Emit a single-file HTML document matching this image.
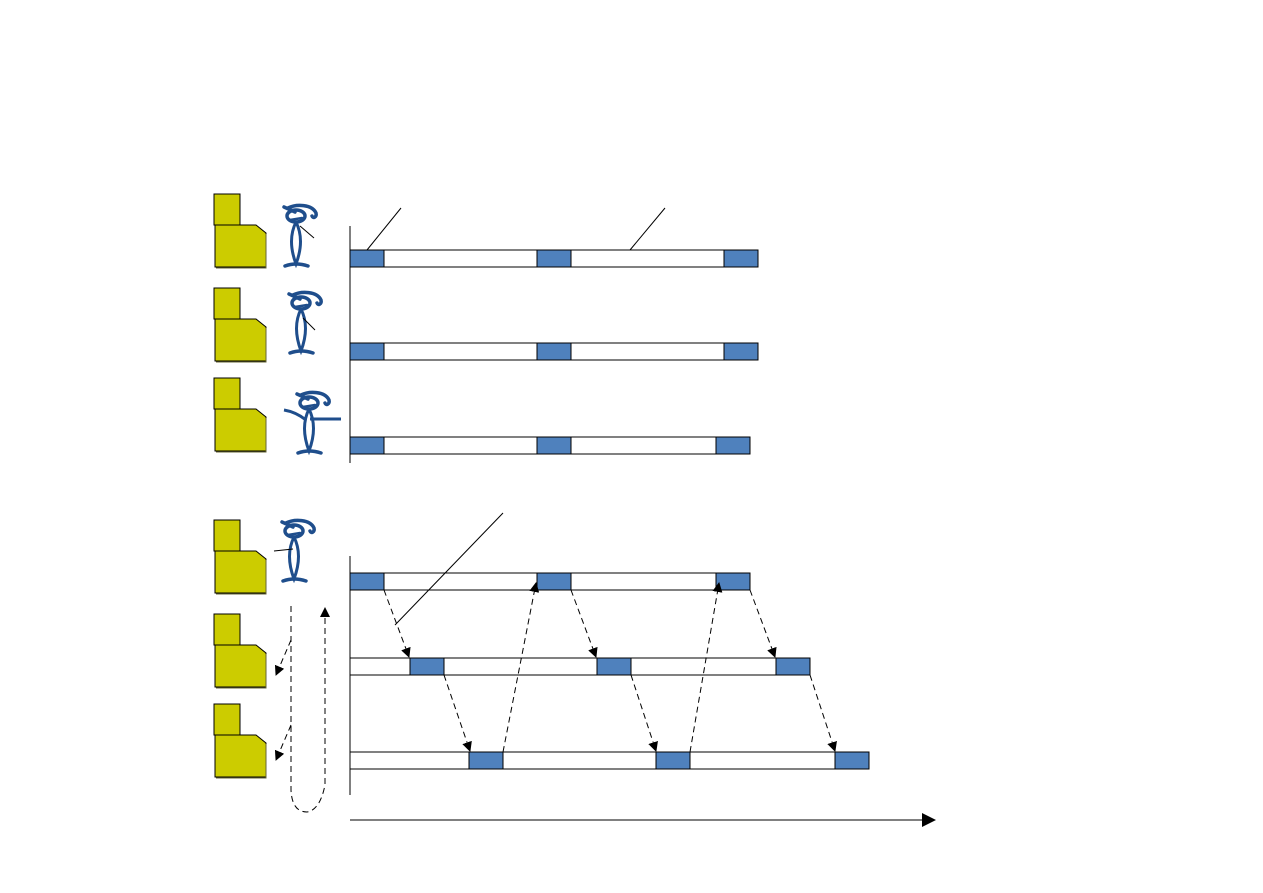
<!DOCTYPE html>
<html><head><style>html,body{margin:0;padding:0;background:#fff}svg{display:block}</style></head>
<body>
<svg width="1263" height="893" viewBox="0 0 1263 893" xmlns="http://www.w3.org/2000/svg">
<defs>
<g id="pc">
<rect x="0" y="0" width="26" height="31" fill="#cccc00" stroke="#000" stroke-width="1"/>
<path d="M1 31 H42 L52 39 V73 H1 Z" fill="#cccc00" stroke="#000" stroke-width="1"/>
<path d="M52 40 V74 H2" fill="none" stroke="#666633" stroke-width="1"/>
</g>
<g id="man" fill="none" stroke="#1f4e8c" stroke-linecap="round">
<path d="M6 4 C14 0 30 0 34 9 C35 13 31 15 30 12" stroke-width="3.5"/>
<ellipse cx="14" cy="12" rx="9" ry="6" stroke-width="3.5"/>
<path d="M2 3 L13 8" stroke-width="3.5"/>
<path d="M8 16 L20 14" stroke-width="2.5"/>
<path d="M14 18 C8 30 8 44 14 60 C20 44 20 30 14 18" stroke-width="3"/>
<path d="M3 62 Q14 58 26 62" stroke-width="3.5"/>
</g>
<marker id="ah" markerWidth="10" markerHeight="10" refX="9" refY="5" orient="auto" markerUnits="userSpaceOnUse"><path d="M0 0 L10 5 L0 10 Z" fill="#000"/></marker>
<marker id="ah2" markerWidth="14" markerHeight="14" refX="13" refY="7" orient="auto" markerUnits="userSpaceOnUse"><path d="M0 0 L14 7 L0 14 Z" fill="#000"/></marker>
</defs>

<use href="#pc" x="214" y="194"/>
<use href="#pc" x="214" y="288"/>
<use href="#pc" x="214" y="378"/>
<use href="#pc" x="214" y="520"/>
<use href="#pc" x="214" y="614"/>
<use href="#pc" x="214" y="704"/>

<use href="#man" x="282" y="204"/>
<line x1="300" y1="226" x2="314" y2="238" stroke="#000"/>
<use href="#man" x="287" y="291"/>
<line x1="303" y1="318" x2="315" y2="330" stroke="#000"/>
<use href="#man" x="295" y="391"/>
<path d="M284 410 Q296 412 306 420 M310 419 H341" stroke="#1f4e8c" stroke-width="3" fill="none"/>
<use href="#man" x="280" y="519"/>
<line x1="274" y1="551" x2="293" y2="549" stroke="#000"/>

<g stroke="#000" stroke-width="1">
<line x1="350" y1="226" x2="350" y2="463"/>
<line x1="350" y1="556" x2="350" y2="795"/>
</g>

<g stroke="#000" stroke-width="1">
<rect x="350" y="250" width="34" height="17" fill="#4f81bd"/><rect x="384" y="250" width="153" height="17" fill="#fff"/><rect x="537" y="250" width="34" height="17" fill="#4f81bd"/><rect x="571" y="250" width="153" height="17" fill="#fff"/><rect x="724" y="250" width="34" height="17" fill="#4f81bd"/>
<rect x="350" y="343" width="34" height="17" fill="#4f81bd"/><rect x="384" y="343" width="153" height="17" fill="#fff"/><rect x="537" y="343" width="34" height="17" fill="#4f81bd"/><rect x="571" y="343" width="153" height="17" fill="#fff"/><rect x="724" y="343" width="34" height="17" fill="#4f81bd"/>
<rect x="350" y="437" width="34" height="17" fill="#4f81bd"/><rect x="384" y="437" width="153" height="17" fill="#fff"/><rect x="537" y="437" width="34" height="17" fill="#4f81bd"/><rect x="571" y="437" width="145" height="17" fill="#fff"/><rect x="716" y="437" width="34" height="17" fill="#4f81bd"/>
<rect x="350" y="573" width="34" height="17" fill="#4f81bd"/><rect x="384" y="573" width="153" height="17" fill="#fff"/><rect x="537" y="573" width="34" height="17" fill="#4f81bd"/><rect x="571" y="573" width="145" height="17" fill="#fff"/><rect x="716" y="573" width="34" height="17" fill="#4f81bd"/>
<rect x="350" y="658" width="60" height="17" fill="#fff"/><rect x="410" y="658" width="34" height="17" fill="#4f81bd"/><rect x="444" y="658" width="153" height="17" fill="#fff"/><rect x="597" y="658" width="34" height="17" fill="#4f81bd"/><rect x="631" y="658" width="145" height="17" fill="#fff"/><rect x="776" y="658" width="34" height="17" fill="#4f81bd"/>
<rect x="350" y="752" width="119" height="17" fill="#fff"/><rect x="469" y="752" width="34" height="17" fill="#4f81bd"/><rect x="503" y="752" width="153" height="17" fill="#fff"/><rect x="656" y="752" width="34" height="17" fill="#4f81bd"/><rect x="690" y="752" width="145" height="17" fill="#fff"/><rect x="835" y="752" width="34" height="17" fill="#4f81bd"/>
</g>

<g stroke="#000" stroke-width="1">
<line x1="401" y1="208" x2="367" y2="250"/>
<line x1="665" y1="208" x2="630" y2="250"/>
<line x1="503" y1="513" x2="395" y2="625"/>
<line x1="350" y1="820" x2="935" y2="820" marker-end="url(#ah2)"/>
</g>

<g stroke="#000" stroke-width="1" stroke-dasharray="6,4" fill="none" marker-end="url(#ah)">
<line x1="384" y1="590" x2="409" y2="657"/>
<line x1="444" y1="675" x2="470" y2="751"/>
<line x1="503" y1="752" x2="536" y2="583"/>
<line x1="571" y1="590" x2="596" y2="657"/>
<line x1="631" y1="675" x2="656" y2="751"/>
<line x1="690" y1="752" x2="719" y2="583"/>
<line x1="750" y1="590" x2="775" y2="657"/>
<line x1="810" y1="675" x2="835" y2="751"/>
<line x1="291" y1="640" x2="276" y2="675"/>
<line x1="291" y1="725" x2="276" y2="760"/>
<path d="M291 606 V790 Q292 812 307 812 Q320 810 325 785 V608"/>
</g>
</svg>
</body></html>
